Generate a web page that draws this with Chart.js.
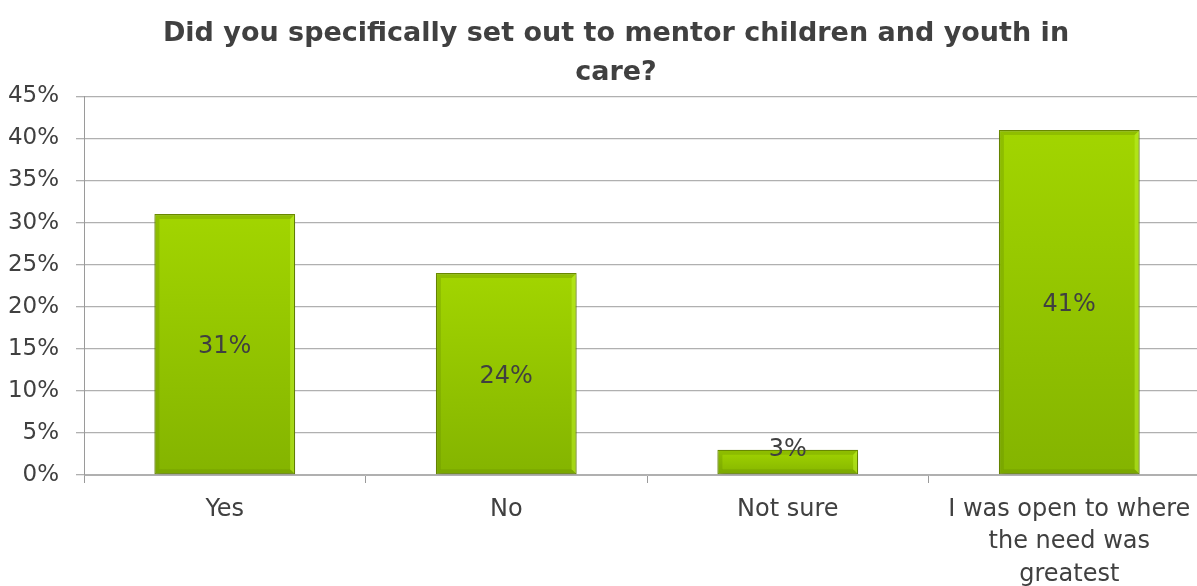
<!DOCTYPE html>
<html>
<head>
<meta charset="utf-8">
<script src="https://cdn.jsdelivr.net/npm/chart.js@4.4.1/dist/chart.umd.min.js"></script>
<style>
  html, body { margin: 0; padding: 0; background: #ffffff; overflow: hidden; }
  #wrap { width: 1232px; height: 586px; position: relative; }
</style>
</head>
<body>
<div id="wrap"><canvas id="chart"></canvas></div>
<script>
// Survey answers and their shares (percent)
const categories = [
  ['Yes'],
  ['No'],
  ['Not sure'],
  ['I was open to where', 'the need was', 'greatest']
];
const shares = [31, 24, 3, 41];
const titleLines = ['Did you specifically set out to mentor children and youth in', 'care?'];
const yTickMax = 45;
const yTickStep = 5;

const TEXT = '#404040';
const FONT = '"DejaVu Sans", "Liberation Sans", sans-serif';

// Per-bar vertical gradient, bright lime at the top, deeper green at the base
function barFill(ctx) {
  const chart = ctx.chart;
  const y = chart.scales && chart.scales.y;
  if (!y || ctx.raw === undefined || !chart.chartArea) return '#94c800';
  const top = y.getPixelForValue(ctx.raw);
  const base = y.getPixelForValue(0);
  const g = chart.ctx.createLinearGradient(0, top, 0, base);
  g.addColorStop(0, '#a2d500');
  g.addColorStop(1, '#84b400');
  return g;
}

// Centre the title over the full frame, including the right margin
const titleShift = {
  id: 'titleShift',
  afterLayout(chart) {
    const tb = chart.titleBlock;
    if (tb) { tb.right += 22; }
  }
};

// Soft drop shadow behind the bars
const barShadow = {
  id: 'barShadow',
  beforeDatasetsDraw(chart) {
    const c = chart.ctx;
    c.save();
    c.shadowColor = 'rgba(0,0,0,0.35)';
    c.shadowBlur = 5;
    c.shadowOffsetX = 1;
    c.shadowOffsetY = 2;
  },
  afterDatasetsDraw(chart) {
    chart.ctx.restore();
  }
};

// Bevel highlight along the inner edges of each bar
const barBevel = {
  id: 'barBevel',
  afterDatasetsDraw(chart) {
    const c = chart.ctx;
    const meta = chart.getDatasetMeta(0);
    c.save();
    meta.data.forEach((bar) => {
      const { x, y, base, width } = bar.getProps(['x', 'y', 'base', 'width'], true);
      const l = x - width / 2, r = x + width / 2;
      const w = 4;
      // right light edge
      c.fillStyle = 'rgba(190,240,40,0.55)';
      c.beginPath();
      c.moveTo(r - 1, y + 1); c.lineTo(r - 1, base - 1); c.lineTo(r - 1 - w, base - 1 - w); c.lineTo(r - 1 - w, y + 1 + w); c.closePath();
      c.fill();
      // top darker edge
      c.fillStyle = 'rgba(110,150,0,0.35)';
      c.beginPath();
      c.moveTo(l + 1, y + 1); c.lineTo(r - 1, y + 1); c.lineTo(r - 1 - w, y + 1 + w); c.lineTo(l + 1 + w, y + 1 + w); c.closePath();
      c.fill();
      // left and bottom darker edges
      c.fillStyle = 'rgba(100,140,0,0.3)';
      c.beginPath();
      c.moveTo(l + 1, y + 1); c.lineTo(l + 1 + w, y + 1 + w); c.lineTo(l + 1 + w, base - 1 - w); c.lineTo(l + 1, base - 1); c.closePath();
      c.fill();
      c.beginPath();
      c.moveTo(l + 1, base - 1); c.lineTo(l + 1 + w, base - 1 - w); c.lineTo(r - 1 - w, base - 1 - w); c.lineTo(r - 1, base - 1); c.closePath();
      c.fill();
    });
    c.restore();
  }
};

// Value labels centred in each bar (or at the top edge of short bars)
const valueLabels = {
  id: 'valueLabels',
  afterDatasetsDraw(chart) {
    const c = chart.ctx;
    const meta = chart.getDatasetMeta(0);
    const data = chart.data.datasets[0].data;
    c.save();
    c.font = '24px ' + FONT;
    c.fillStyle = TEXT;
    c.textAlign = 'center';
    c.textBaseline = 'middle';
    meta.data.forEach((bar, i) => {
      const { x, y, base } = bar.getProps(['x', 'y', 'base'], true);
      const h = base - y;
      const ty = h < 30 ? y - 1 : (y + base) / 2 + 2;
      c.fillText(data[i] + '%', x, ty + 1);
    });
    c.restore();
  }
};

new Chart(document.getElementById('chart'), {
  type: 'bar',
  data: {
    labels: categories,
    datasets: [{
      data: shares,
      backgroundColor: barFill,
      borderColor: '#6d8e00',
      borderWidth: 1.2,
      borderSkipped: false,
      categoryPercentage: 1.0,
      barPercentage: 0.5
    }]
  },
  options: {
    responsive: true,
    maintainAspectRatio: false,
    devicePixelRatio: 1,
    animation: false,
    layout: { padding: { left: 0, right: 22, top: 6, bottom: 0 } },
    plugins: {
      legend: { display: false },
      tooltip: { enabled: false },
      title: {
        display: true,
        text: titleLines,
        color: TEXT,
        font: { family: FONT, size: 27, weight: 'bold', lineHeight: 1.45 },
        padding: { top: 8, bottom: 4 }
      }
    },
    scales: {
      x: {
        grid: {
          offset: true,
          drawOnChartArea: false,
          drawTicks: true,
          tickLength: 8,
          color: '#9a9a9a'
        },
        border: { display: true, color: '#b0b0b0' },
        ticks: {
          color: TEXT,
          font: { family: FONT, size: 24, lineHeight: 1.36 },
          padding: 10,
          maxRotation: 0,
          autoSkip: false
        },
        afterFit(s) { s.height = 111; }
      },
      y: {
        min: 0,
        max: yTickMax,
        ticks: {
          stepSize: yTickStep,
          color: TEXT,
          font: { family: FONT, size: 23 },
          padding: 17,
          callback: (v) => v + '%'
        },
        grid: { color: '#b0b0b0', lineWidth: 1.3, tickLength: 8 },
        border: { display: true, color: '#9a9a9a' },
        afterFit(s) { s.width = 84; }
      }
    }
  },
  plugins: [titleShift, barShadow, barBevel, valueLabels]
});
</script>
</body>
</html>
